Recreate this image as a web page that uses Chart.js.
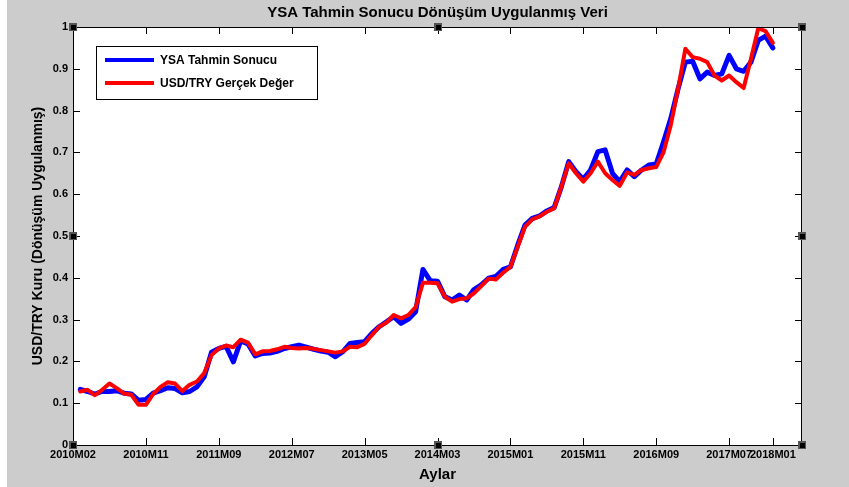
<!DOCTYPE html>
<html>
<head>
<meta charset="utf-8">
<script src="https://cdn.jsdelivr.net/npm/chart.js@4.4.1/dist/chart.umd.min.js"></script>
<style>
  body { margin: 0; background: #fff; }
  canvas { display: block; }
</style>
</head>
<body>
<canvas id="myChart" width="849" height="487"></canvas>
<script>
// months 1..96 (x positions on a 0..100 axis)
var tickPositions = [0, 10, 20, 30, 40, 50, 60, 70, 80, 90, 96];
var tickLabels = ["2010M02", "2010M11", "2011M09", "2012M07", "2013M05", "2014M03",
                  "2015M01", "2015M11", "2016M09", "2017M07", "2018M01"];

var ysaTahmin = [
  0.133, 0.128, 0.122, 0.128, 0.128, 0.130, 0.124, 0.122, 0.107, 0.109,
  0.124, 0.130, 0.137, 0.135, 0.125, 0.128, 0.139, 0.163, 0.222, 0.231,
  0.236, 0.199, 0.249, 0.242, 0.213, 0.219, 0.220, 0.224, 0.231, 0.235,
  0.239, 0.234, 0.229, 0.225, 0.222, 0.211, 0.223, 0.243, 0.245, 0.247,
  0.267, 0.283, 0.295, 0.307, 0.291, 0.301, 0.319, 0.420, 0.393, 0.392,
  0.355, 0.347, 0.359, 0.347, 0.372, 0.383, 0.399, 0.403, 0.420, 0.426,
  0.478, 0.526, 0.542, 0.548, 0.560, 0.568, 0.618, 0.678, 0.654, 0.636,
  0.658, 0.702, 0.706, 0.650, 0.630, 0.658, 0.642, 0.658, 0.670, 0.672,
  0.725, 0.781, 0.852, 0.916, 0.918, 0.876, 0.892, 0.884, 0.888, 0.932,
  0.900, 0.894, 0.916, 0.968, 0.978, 0.950
];

var gercekDeger = [
  0.128, 0.132, 0.119, 0.132, 0.147, 0.136, 0.123, 0.120, 0.096, 0.096,
  0.122, 0.139, 0.150, 0.147, 0.129, 0.144, 0.152, 0.172, 0.215, 0.231,
  0.238, 0.234, 0.252, 0.245, 0.217, 0.224, 0.225, 0.229, 0.235, 0.232,
  0.231, 0.232, 0.230, 0.227, 0.224, 0.221, 0.224, 0.235, 0.234, 0.242,
  0.263, 0.283, 0.293, 0.311, 0.303, 0.311, 0.330, 0.388, 0.388, 0.387,
  0.355, 0.343, 0.349, 0.351, 0.363, 0.380, 0.398, 0.396, 0.412, 0.426,
  0.474, 0.522, 0.540, 0.547, 0.558, 0.566, 0.618, 0.674, 0.650, 0.630,
  0.650, 0.678, 0.650, 0.634, 0.620, 0.652, 0.646, 0.658, 0.662, 0.665,
  0.700, 0.765, 0.852, 0.948, 0.928, 0.924, 0.916, 0.884, 0.872, 0.884,
  0.868, 0.854, 0.924, 0.997, 0.990, 0.962
];

var chartTitle = 'YSA Tahmin Sonucu Dönüşüm Uygulanmış Veri';

var toPoints = function(arr) {
  return arr.map(function(v, i) { return { x: i + 1, y: v }; });
};

var fontFam = "'Liberation Sans', Arial, sans-serif";

// grey figure background + white axes
var background = {
  id: 'background',
  beforeDraw: function(chart) {
    var c = chart.ctx, a = chart.chartArea;
    c.save();
    c.fillStyle = '#cccccc';
    c.fillRect(7, 0, chart.width - 7, chart.height);
    c.fillStyle = '#ffffff';
    c.fillRect(a.left, a.top, a.right - a.left, a.bottom - a.top);
    c.restore();
  }
};

// matlab style box, inward ticks, selection handles, title, legend
var matlabBox = {
  id: 'matlabBox',
  afterDraw: function(chart) {
    var c = chart.ctx, a = chart.chartArea;
    var xs = chart.scales.x, ys = chart.scales.y;
    c.save();
    c.strokeStyle = '#000';
    c.lineWidth = 1;
    c.strokeRect(a.left + 0.5, a.top + 0.5, a.right - a.left - 1, a.bottom - a.top);
    c.beginPath();
    ys.ticks.forEach(function(t) {
      var y = Math.round(ys.getPixelForValue(t.value)) + 0.5;
      c.moveTo(a.left, y); c.lineTo(a.left + 7, y);
      c.moveTo(a.right, y); c.lineTo(a.right - 7, y);
    });
    xs.ticks.forEach(function(t) {
      var x = Math.round(xs.getPixelForValue(t.value)) + 0.5;
      c.moveTo(x, a.bottom); c.lineTo(x, a.bottom - 7);
      c.moveTo(x, a.top); c.lineTo(x, a.top + 7);
    });
    c.stroke();

    var midX = (a.left + a.right) / 2, midY = (a.top + a.bottom) / 2;
    var handles = [[a.left, a.top], [midX, a.top], [a.right, a.top],
                   [a.left, midY], [a.right, midY],
                   [a.left, a.bottom], [midX, a.bottom], [a.right, a.bottom]];
    handles.forEach(function(h) {
      c.fillStyle = '#555';
      c.fillRect(Math.round(h[0]) - 4, Math.round(h[1]) - 4, 8, 8);
      c.fillStyle = '#000';
      c.fillRect(Math.round(h[0]) - 2, Math.round(h[1]) - 2, 5, 5);
    });

    // title, centred over the axes like matlab
    c.fillStyle = '#000';
    c.font = 'bold 15px ' + fontFam;
    c.textAlign = 'center';
    c.textBaseline = 'middle';
    c.fillText(chartTitle, midX, 13);

    // legend
    var lx = 96, ly = 46, lw = 221, lh = 53;
    c.fillStyle = '#fff';
    c.fillRect(lx, ly, lw, lh);
    c.strokeStyle = '#000';
    c.strokeRect(lx + 0.5, ly + 0.5, lw, lh);
    c.font = 'bold 12px ' + fontFam;
    c.textAlign = 'left';
    [0, 1].forEach(function(di, k) {
      var ds = chart.data.datasets[di];
      var yy = ly + 14 + k * 23;
      c.strokeStyle = ds.borderColor;
      c.lineWidth = 4;
      c.beginPath();
      c.moveTo(lx + 9, yy); c.lineTo(lx + 58, yy);
      c.stroke();
      c.fillStyle = '#000';
      c.fillText(ds.label, lx + 64, yy + 1);
    });
    c.restore();
  }
};

var ctx = document.getElementById('myChart').getContext('2d');

var chart = new Chart(ctx, {
  type: 'line',
  data: {
    datasets: [{
      label: 'YSA Tahmin Sonucu',
      data: toPoints(ysaTahmin),
      borderColor: '#0000ff',
      borderWidth: 5,
      order: 2
    }, {
      label: 'USD/TRY Gerçek Değer',
      data: toPoints(gercekDeger),
      borderColor: '#ff0000',
      borderWidth: 4,
      order: 1
    }]
  },
  options: {
    responsive: false,
    animation: false,
    devicePixelRatio: 1,
    layout: { padding: { left: 0, right: 47, top: 27, bottom: 0 } },
    elements: {
      point: { radius: 0 },
      line: { tension: 0, borderJoinStyle: 'round', borderCapStyle: 'round' }
    },
    plugins: {
      legend: { display: false },
      tooltip: { enabled: false },
      title: { display: false }
    },
    scales: {
      x: {
        type: 'linear',
        min: 0,
        max: 100,
        afterFit: function(scale) { scale.height = 42; },
        afterBuildTicks: function(scale) {
          scale.ticks = tickPositions.map(function(v) { return { value: v }; });
        },
        grid: { display: false, drawTicks: false },
        border: { display: false },
        ticks: {
          autoSkip: false,
          maxRotation: 0,
          padding: 3,
          color: '#000',
          font: { family: fontFam, size: 11, weight: 'bold' },
          callback: function(value) {
            var k = tickPositions.indexOf(value);
            return k >= 0 ? tickLabels[k] : '';
          }
        },
        title: {
          display: true,
          text: 'Aylar',
          color: '#000',
          font: { family: fontFam, size: 15, weight: 'bold' },
          padding: { top: 0, bottom: 3 }
        }
      },
      y: {
        min: 0,
        max: 1,
        afterFit: function(scale) { scale.width = 73; },
        grid: { display: false, drawTicks: false },
        border: { display: false },
        ticks: {
          stepSize: 0.1,
          padding: 5,
          color: '#000',
          font: { family: fontFam, size: 11, weight: 'bold' },
          callback: function(value) {
            return String(Number(value.toFixed(1)));
          }
        },
        title: {
          display: true,
          text: 'USD/TRY Kuru (Dönüşüm Uygulanmış)',
          color: '#000',
          font: { family: fontFam, size: 14, weight: 'bold' },
          padding: { top: 30, bottom: 0 }
        }
      }
    }
  },
  plugins: [background, matlabBox]
});
</script>
</body>
</html>
